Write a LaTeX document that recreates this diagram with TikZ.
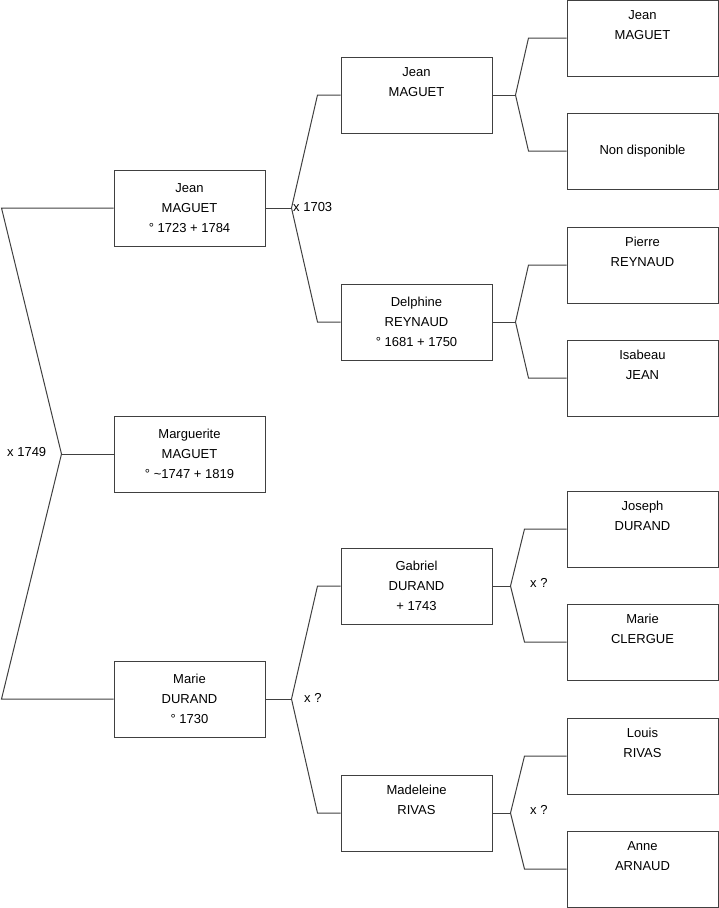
\documentclass[tikz,border=0pt]{standalone}
\usepackage{fontspec}
\setmainfont{Liberation Sans}
\usetikzlibrary{positioning}

\begin{document}
\begin{tikzpicture}[
  x=1pt, y=-1pt,
  pbox/.style={rectangle, draw=black!75, line width=1pt, minimum width=151pt, minimum height=76pt, inner sep=0pt, align=center, font=\fontsize{13}{20}\selectfont},
  lbl/.style={anchor=west, inner sep=0pt, font=\fontsize{13}{20}\selectfont},
  link/.style={draw=black!75, line width=1pt}
]
  \useasboundingbox (0,0) rectangle (719,908);

  % generace 0 a 1
  \node[pbox] (marg) at (189.5,454) {Marguerite\\MAGUET\\° \textasciitilde1747 + 1819};
  \node[pbox] (jean1) at (189.5,208) {Jean\\MAGUET\\° 1723 + 1784};
  \node[pbox] (marie1) at (189.5,699) {Marie\\DURAND\\° 1730};

  % generace 2
  \node[pbox] (jean2) at (416.5,95) {Jean\\MAGUET\\\strut};
  \node[pbox] (delph) at (416.5,322) {Delphine\\REYNAUD\\° 1681 + 1750};
  \node[pbox] (gabr) at (416.5,586) {Gabriel\\DURAND\\+ 1743};
  \node[pbox] (madel) at (416.5,813) {Madeleine\\RIVAS\\\strut};

  % generace 3
  \node[pbox] (jean3) at (642.5,38) {Jean\\MAGUET\\\strut};
  \node[pbox] (nond) at (642.5,151) {Non disponible};
  \node[pbox] (pierre) at (642.5,265) {Pierre\\REYNAUD\\\strut};
  \node[pbox] (isab) at (642.5,378) {Isabeau\\JEAN\\\strut};
  \node[pbox] (joseph) at (642.5,529) {Joseph\\DURAND\\\strut};
  \node[pbox] (marie3) at (642.5,642) {Marie\\CLERGUE\\\strut};
  \node[pbox] (louis) at (642.5,756) {Louis\\RIVAS\\\strut};
  \node[pbox] (anne) at (642.5,869) {Anne\\ARNAUD\\\strut};

  % spojnice
  \draw[link] (marg.west) -- ++(-52,0) coordinate (f0);
  \draw[link] (jean1.west) -- ([xshift=-112pt]jean1.west) -- (f0) -- ([xshift=-112pt]marie1.west) -- (marie1.west);

  \draw[link] (jean1.east) -- ++(26,0) coordinate (f1);
  \draw[link] (jean2.west) -- ([xshift=-23pt]jean2.west) -- (f1) -- ([xshift=-23pt]delph.west) -- (delph.west);

  \draw[link] (marie1.east) -- ++(26,0) coordinate (f2);
  \draw[link] (gabr.west) -- ([xshift=-23pt]gabr.west) -- (f2) -- ([xshift=-23pt]madel.west) -- (madel.west);

  \draw[link] (jean2.east) -- ++(23,0) coordinate (f3);
  \draw[link] (jean3.west) -- ([xshift=-38pt]jean3.west) -- (f3) -- ([xshift=-38pt]nond.west) -- (nond.west);

  \draw[link] (delph.east) -- ++(23,0) coordinate (f4);
  \draw[link] (pierre.west) -- ([xshift=-38pt]pierre.west) -- (f4) -- ([xshift=-38pt]isab.west) -- (isab.west);

  \draw[link] (gabr.east) -- ++(18,0) coordinate (f5);
  \draw[link] (joseph.west) -- ([xshift=-42pt]joseph.west) -- (f5) -- ([xshift=-42pt]marie3.west) -- (marie3.west);

  \draw[link] (madel.east) -- ++(18,0) coordinate (f6);
  \draw[link] (louis.west) -- ([xshift=-42pt]louis.west) -- (f6) -- ([xshift=-42pt]anne.west) -- (anne.west);

  % mariages
  \node[lbl] (m0) at (7,452) {x 1749};
  \node[lbl] (m1) at (293,207) {x 1703};
  \node[lbl] (m2) at (304,698) {x ?};
  \node[lbl] (m3) at (530,583) {x ?};
  \node[lbl] (m4) at (530,810) {x ?};
\end{tikzpicture}
\end{document}
